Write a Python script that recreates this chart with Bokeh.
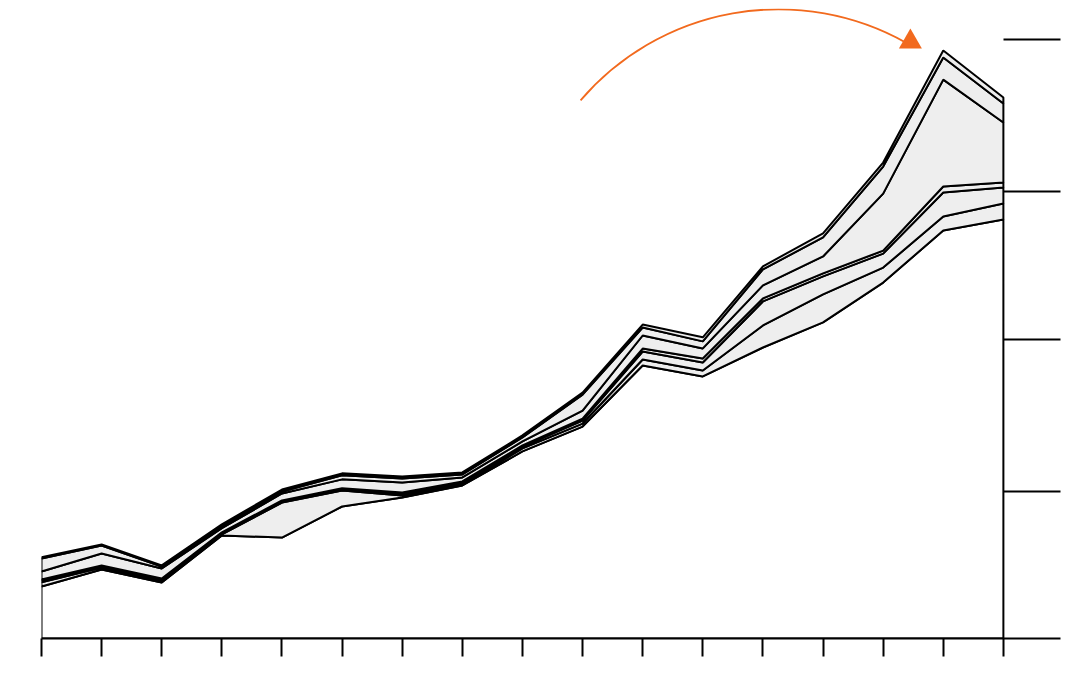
import math
import numpy as np
from bokeh.plotting import figure
from bokeh.models import Range1d, FixedTicker, LinearAxis
from bokeh.embed import file_html
from bokeh.resources import INLINE

# ---- data (17 periods, 7 stacked series; unit: arbitrary) ----
periods = list(range(17))
s1 = [34.7, 46.0, 37.3, 68.7, 67.3, 88.0, 94.0, 102.0, 124.7, 141.3, 182.0, 174.7, 194.0, 210.7, 237.3, 272.0, 279.3]
s2 = [2.7, 1.3, 0.7, 0.7, 23.3, 10.7, 1.3, 0.7, 2.0, 2.0, 4.0, 4.0, 14.7, 18.7, 10.0, 9.3, 10.7]
s3 = [1.3, 0.7, 1.3, 0.7, 0.7, 0.7, 0.7, 0.7, 1.3, 2.0, 5.3, 5.3, 16.0, 12.0, 9.3, 16.0, 10.7]
s4 = [0.7, 0.7, 0.7, 0.7, 0.7, 0.7, 1.3, 1.3, 0.7, 1.3, 2.0, 2.7, 2.0, 2.0, 2.0, 4.0, 3.3]
s5 = [5.3, 8.0, 6.7, 2.7, 4.7, 6.0, 6.7, 2.7, 2.7, 5.3, 8.7, 6.7, 8.7, 11.3, 38.0, 71.3, 40.0]
s6 = [8.7, 5.3, 1.3, 1.3, 1.3, 2.7, 2.7, 2.0, 2.7, 10.7, 5.3, 4.7, 10.7, 12.7, 18.0, 14.7, 12.7]
s7 = [0.7, 0.7, 0.7, 1.3, 1.3, 1.3, 1.3, 1.3, 1.3, 1.3, 2.0, 2.7, 2.0, 2.7, 2.7, 4.7, 4.0]
y_ticks = [98, 199.5, 298, 399.3]

series = [s1, s2, s3, s4, s5, s6, s7]
fills = ["#ffffff"] + ["#eeeeee"] * 6
ORANGE = "#f26a1e"

p = figure(frame_width=1019, frame_height=630,
           min_border_left=41, min_border_top=8, min_border_right=10, min_border_bottom=30,
           x_range=Range1d(0, 16.95), y_range=Range1d(0, 420),
           output_backend="svg", toolbar_location=None,
           x_axis_location=None, y_axis_location=None)
p.outline_line_color = None
p.xgrid.visible = False
p.ygrid.visible = False
p.background_fill_color = "white"

x = np.array(periods, dtype=float)
bottom = np.zeros(len(x))
for s, fc in zip(series, fills):
    top = bottom + np.array(s)
    px = list(x) + list(x[::-1])
    py = list(top) + list(bottom[::-1])
    p.patch(px, py, fill_color=fc, line_color="black", line_width=2)
    bottom = top

# bottom axis: ticks only
xa = LinearAxis(ticker=FixedTicker(ticks=periods))
xa.major_label_overrides = {i: "" for i in periods}
xa.major_label_text_font_size = "0px"
xa.major_label_standoff = 0
xa.major_tick_out = 18
xa.major_tick_in = 0
xa.minor_tick_line_color = None
xa.axis_line_width = 2
xa.major_tick_line_width = 2
p.add_layout(xa, "below")

# right axis: long inward ticks only
ya = LinearAxis(ticker=FixedTicker(ticks=y_ticks))
ya.major_label_overrides = {t: "" for t in y_ticks}
ya.major_label_text_font_size = "0px"
ya.major_label_standoff = 0
ya.major_tick_out = 0
ya.major_tick_in = 57
ya.minor_tick_line_color = None
ya.axis_line_color = None
ya.major_tick_line_width = 2
p.add_layout(ya, "right")

# orange curved arrow pointing at the peak
arc_cx, arc_cy, arc_r = 12.258, 245.7, 260.6
p.arc(x=[arc_cx], y=[arc_cy], radius=arc_r, radius_units="screen",
      start_angle=math.radians(60.8), end_angle=math.radians(139.4),
      direction="anticlock", line_color=ORANGE, line_width=1.8)
p.scatter(x=[14.453], y=[397.8], marker="triangle", size=23,
          fill_color=ORANGE, line_color=None)

open("out.html", "w").write(file_html(p, INLINE))
